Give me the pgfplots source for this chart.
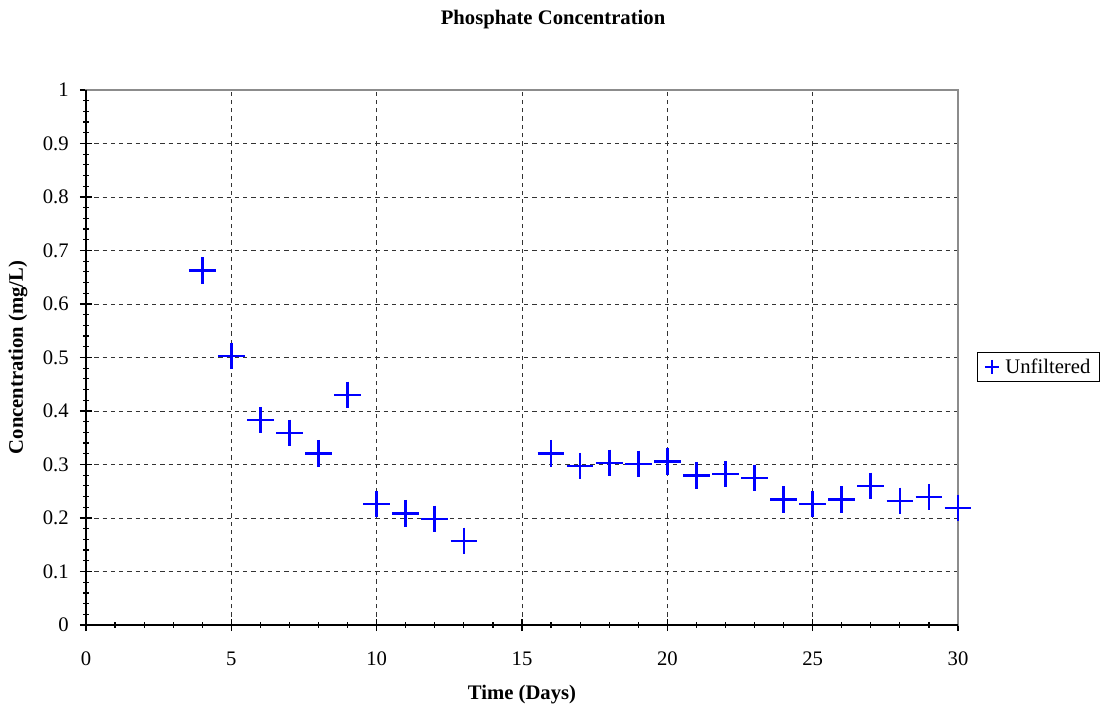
\documentclass[border=0pt]{standalone}
\usepackage{fontspec}
\setmainfont{Liberation Serif}
\usepackage{pgfplots}
\pgfplotsset{compat=1.18}
\newcommand\f{\fontsize{15.5}{18}\selectfont}
\definecolor{mblue}{RGB}{0,0,255}
\begin{document}
\begin{tikzpicture}
\begin{axis}[
  scale only axis,
  clip mode=individual,
  width=654pt, height=401.25pt,
  xmin=0, xmax=30, ymin=0, ymax=1,
  xtick={0,5,...,30},
  ytick={0,0.1,0.2,0.3,0.4,0.5,0.6,0.7,0.8,0.9,1},
  yticklabels={0,0.1,0.2,0.3,0.4,0.5,0.6,0.7,0.8,0.9,1},
  minor x tick num=4, minor y tick num=4,
  xtick pos=bottom, ytick pos=left,
  tick align=center,
  major tick length=9pt,
  minor tick length=4pt,
  tick style={black, line width=0.9pt},
  /pgf/number format/assume math mode=true,
  ticklabel style={font=\f},
  xticklabel style={yshift=-12pt},
  yticklabel style={xshift=-5pt},
  grid=major,
  major grid style={black!80, line width=0.7pt, dash pattern=on 3.2pt off 3pt},
  axis line style={draw=black!45, line width=1.8pt},
  xlabel={\textbf{Time (Days)}},
  ylabel={\textbf{Concentration (mg/L)}},
  label style={font=\f},
  xlabel style={at={(axis description cs:0.5,0)}, anchor=center, yshift=-52.5pt},
  ylabel style={at={(axis description cs:0,0.5)}, anchor=center, yshift=51pt},
  legend style={at={(axis description cs:1.0218,0.482)}, anchor=west, draw=black, line width=0.6pt, font=\f, inner xsep=5.5pt, inner ysep=3pt, legend cell align=left,
    nodes={inner sep=1.5pt}, column sep=3pt},
  legend image code/.code={\draw[mark size=5.5pt, line width=1.6pt] plot coordinates {(0.2cm,0cm)};},
]
\draw[black, line width=1.6pt] (rel axis cs:0,1) -- (rel axis cs:0,0) -- (rel axis cs:1,0);
\addplot[only marks, mark=+, mark size=10pt, mblue, line width=2pt] coordinates {
(4,0.662) (5,0.503) (6,0.383) (7,0.359) (8,0.321) (9,0.430) (10,0.226) (11,0.209) (12,0.198) (13,0.157)
(16,0.321) (17,0.297) (18,0.303) (19,0.301) (20,0.305) (21,0.280) (22,0.282) (23,0.275) (24,0.234) (25,0.226)
(26,0.234) (27,0.260) (28,0.232) (29,0.239) (30,0.219)
};
\addlegendentry{Unfiltered}
\node[font=\f\bfseries, anchor=center] at (axis description cs:0.5356,1) [yshift=52.5pt] {Phosphate Concentration};
\coordinate (O) at (rel axis cs:0,0);
\coordinate (T) at (rel axis cs:1,1);
\end{axis}
\pgfresetboundingbox
\path ([shift={(-64.5pt,-60.75pt)}]O) rectangle ([shift={(108pt,67.5pt)}]T);
\end{tikzpicture}
\end{document}
